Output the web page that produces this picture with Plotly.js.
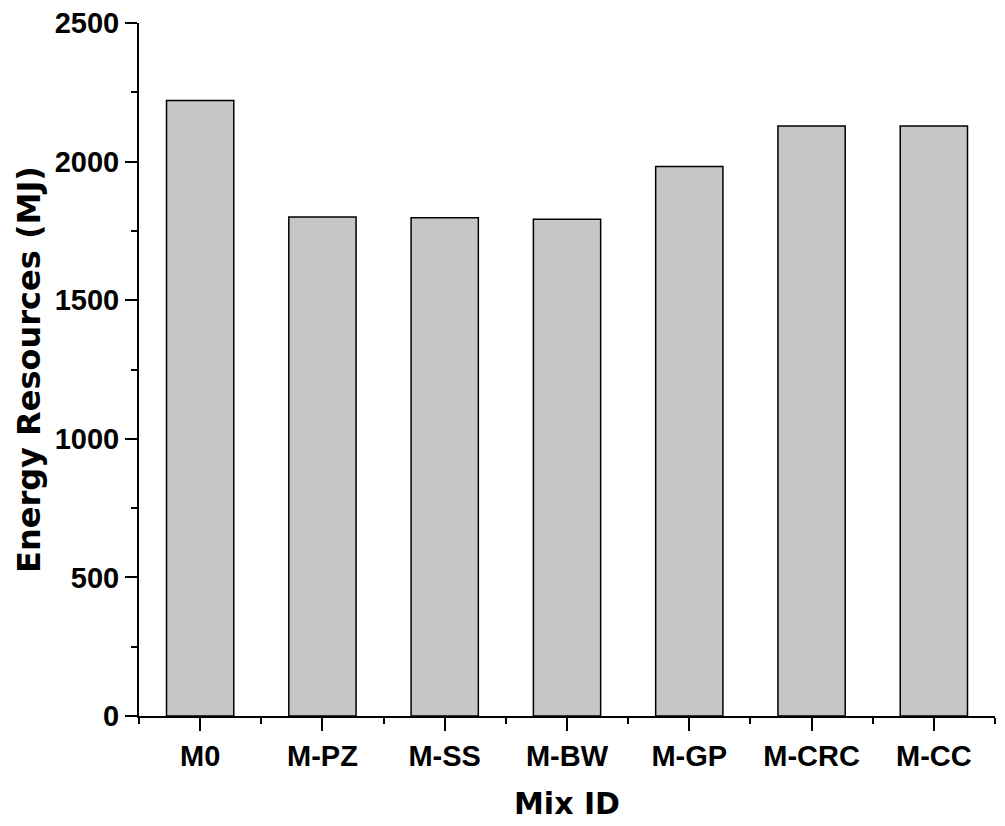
<!DOCTYPE html>
<html>
<head>
<meta charset="utf-8">
<script src="https://cdn.plot.ly/plotly-3.0.1.min.js"></script>
<style>
    html, body { margin: 0; padding: 0; background: #ffffff; }
    #graph { width: 1005px; height: 826px; }
</style>
</head>
<body>
<div id="graph"></div>
<script>
// Mix IDs and their energy resources (MJ)
const mixIds = ["M0", "M-PZ", "M-SS", "M-BW", "M-GP", "M-CRC", "M-CC"];
const energyMJ = [2220, 1800, 1797, 1792, 1982, 2128, 2128];
const yTicks = [0, 500, 1000, 1500, 2000, 2500];

// bars sit on a numeric axis so both center ticks and boundary ticks can be drawn
let xPos = mixIds.map((m, i) => i);
let boundaries = mixIds.map((m, i) => i - 0.5).concat([mixIds.length - 0.5]);

let tickFont = {family: "Liberation Sans, Arial, sans-serif", size: 29, color: "#000000", weight: "bold"};
let xTitleFont = {family: "DejaVu Sans, sans-serif", size: 30, color: "#000000", weight: "bold"};
let yTitleFont = {family: "DejaVu Sans, sans-serif", size: 32, color: "#000000", weight: "bold"};

let data = [{
    type: "bar",
    x: xPos,
    y: energyMJ,
    width: 0.55,
    marker: {color: "#c6c6c6", line: {color: "#000000", width: 1.5}},
    hoverinfo: "skip"
}];

let layout = {
    width: 1005,
    height: 826,
    margin: {l: 139, r: 10, t: 23, b: 110, pad: 0},
    paper_bgcolor: "#ffffff",
    plot_bgcolor: "#ffffff",
    showlegend: false,
    bargap: 0.45,
    xaxis: {
        range: [-0.5, mixIds.length - 0.5],
        tickmode: "array",
        tickvals: xPos,
        ticktext: mixIds,
        ticks: "outside",
        ticklen: 13,
        tickwidth: 2,
        tickcolor: "#000000",
        tickfont: tickFont,
        minor: {tickmode: "array", tickvals: boundaries, ticks: "outside", ticklen: 6, tickwidth: 2, tickcolor: "#000000"},
        showline: true,
        linecolor: "#000000",
        linewidth: 2,
        showgrid: false,
        zeroline: false,
        fixedrange: true,
        title: {text: "Mix ID", font: xTitleFont, standoff: 22}
    },
    yaxis: {
        range: [0, 2500],
        tickmode: "array",
        tickvals: yTicks,
        ticks: "outside",
        ticklen: 12,
        tickwidth: 2,
        tickcolor: "#000000",
        tickfont: tickFont,
        minor: {tickmode: "linear", tick0: 250, dtick: 500, ticks: "outside", ticklen: 6, tickwidth: 2, tickcolor: "#000000"},
        showline: true,
        linecolor: "#000000",
        linewidth: 2,
        showgrid: false,
        zeroline: false,
        fixedrange: true,
        title: {text: "Energy Resources (MJ)", font: yTitleFont, standoff: 4}
    }
};

Plotly.newPlot("graph", data, layout, {displayModeBar: false, staticPlot: true});
</script>
</body>
</html>
